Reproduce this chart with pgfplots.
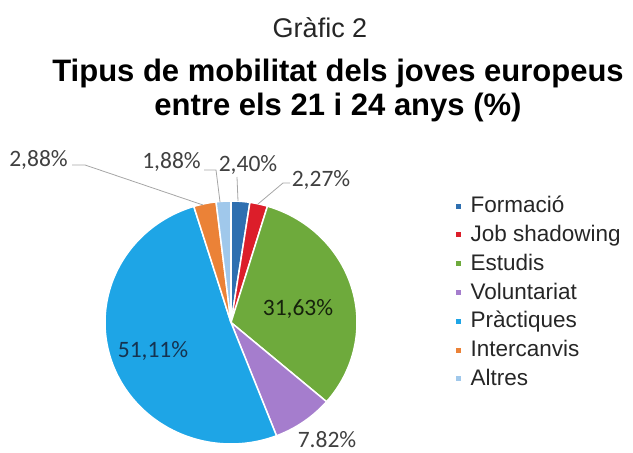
\documentclass[border=0pt]{standalone}
\usepackage{pgfplots}
\pgfplotsset{compat=1.18}
\usepackage{fontspec}
\setmainfont{Liberation Sans}
\newfontfamily\calibri{Carlito}
\definecolor{cForm}{HTML}{2E6FB0}
\definecolor{cJob}{HTML}{DC1E2A}
\definecolor{cEst}{HTML}{6EAA3C}
\definecolor{cVol}{HTML}{A57DCD}
\definecolor{cPra}{HTML}{1EA5E6}
\definecolor{cInt}{HTML}{EB8237}
\definecolor{cAlt}{HTML}{A0C8EB}
\definecolor{lead}{HTML}{A6A6A6}
\definecolor{lbl}{HTML}{404040}
\begin{document}
\begin{tikzpicture}
\begin{axis}[
  x=1bp, y=1bp, xmin=0, xmax=633, ymin=0, ymax=453,
  scale only axis, hide axis, clip=false,
  legend image code/.code={\fill[#1] (0bp,-4.5bp) rectangle (6.5bp,2bp);},
  legend cell align=left,
  legend style={draw=none, fill=none, at={(axis cs:454,262.5)}, anchor=north west,
    font=\fontsize{22.5bp}{27bp}\selectfont, text=black!85,
    row sep=0pt, column sep=8.5bp, inner sep=0pt, outer sep=0pt,
    nodes={inner sep=0pt, outer sep=0pt, text height=22.3bp, text depth=6.5bp}},
  slice/.style={draw=white, line width=1.5bp, no markers},
]
\path (axis cs:0,0) rectangle (axis cs:633,453);
% pie slices: domain = cumulative percentage; 3.6 degrees per percent, clockwise from 12 o'clock
\addplot[slice, fill=cForm, domain=0:2.40, samples=8]
  ({231+126*cos(90-3.6*x)},{130.5+121.5*sin(90-3.6*x)}) -- (axis cs:231,130.5) -- cycle;
\addlegendentry{Formació}
\addplot[slice, fill=cJob, domain=2.40:4.67, samples=8]
  ({231+126*cos(90-3.6*x)},{130.5+121.5*sin(90-3.6*x)}) -- (axis cs:231,130.5) -- cycle;
\addlegendentry{Job shadowing}
\addplot[slice, fill=cEst, domain=4.67:36.30, samples=60]
  ({231+126*cos(90-3.6*x)},{130.5+121.5*sin(90-3.6*x)}) -- (axis cs:231,130.5) -- cycle;
\addlegendentry{Estudis}
\addplot[slice, fill=cVol, domain=36.30:44.12, samples=20]
  ({231+126*cos(90-3.6*x)},{130.5+121.5*sin(90-3.6*x)}) -- (axis cs:231,130.5) -- cycle;
\addlegendentry{Voluntariat}
\addplot[slice, fill=cPra, domain=44.12:95.23, samples=100]
  ({231+126*cos(90-3.6*x)},{130.5+121.5*sin(90-3.6*x)}) -- (axis cs:231,130.5) -- cycle;
\addlegendentry{Pràctiques}
\addplot[slice, fill=cInt, domain=95.23:98.11, samples=8]
  ({231+126*cos(90-3.6*x)},{130.5+121.5*sin(90-3.6*x)}) -- (axis cs:231,130.5) -- cycle;
\addlegendentry{Intercanvis}
\addplot[slice, fill=cAlt, domain=98.11:99.99, samples=8]
  ({231+126*cos(90-3.6*x)},{130.5+121.5*sin(90-3.6*x)}) -- (axis cs:231,130.5) -- cycle;
\addlegendentry{Altres}
% leader lines
\addplot[lead, line width=0.8bp, no markers, forget plot] coordinates {(72,288) (85,288) (203,248)};
\addplot[lead, line width=0.8bp, no markers, forget plot] coordinates {(204,283) (216,283) (220,251)};
\addplot[lead, line width=0.8bp, no markers, forget plot] coordinates {(237,276) (238,252)};
\addplot[lead, line width=0.8bp, no markers, forget plot] coordinates {(290,270) (283,270) (258,249)};
% data labels
\begin{scope}[every node/.style={anchor=base, font=\calibri\fontsize{23.5bp}{28bp}\selectfont, text=lbl, inner sep=0pt}]
\node at (axis cs:38.5,286) {2,88\%};
\node at (axis cs:171.5,284) {1,88\%};
\node at (axis cs:248,281) {2,40\%};
\node at (axis cs:321,266) {2,27\%};
\node[text=black!80!cEst] at (axis cs:298,137.5) {31,63\%};
\node[text=black!55!cForm] at (axis cs:153,95) {51,11\%};
\node at (axis cs:327,5.5) {7.82\%};
\end{scope}
% titles
\node[anchor=base, font=\fontsize{27bp}{32bp}\selectfont, text=black!85, inner sep=0pt] at (axis cs:320,415) {Gràfic 2};
\node[anchor=base, font=\bfseries\fontsize{31bp}{36bp}\selectfont, inner sep=0pt] at (axis cs:338,371) {Tipus de mobilitat dels joves europeus};
\node[anchor=base, font=\bfseries\fontsize{31bp}{36bp}\selectfont, inner sep=0pt] at (axis cs:338,337) {entre els 21 i 24 anys (\%)};
\end{axis}
\end{tikzpicture}
\end{document}
